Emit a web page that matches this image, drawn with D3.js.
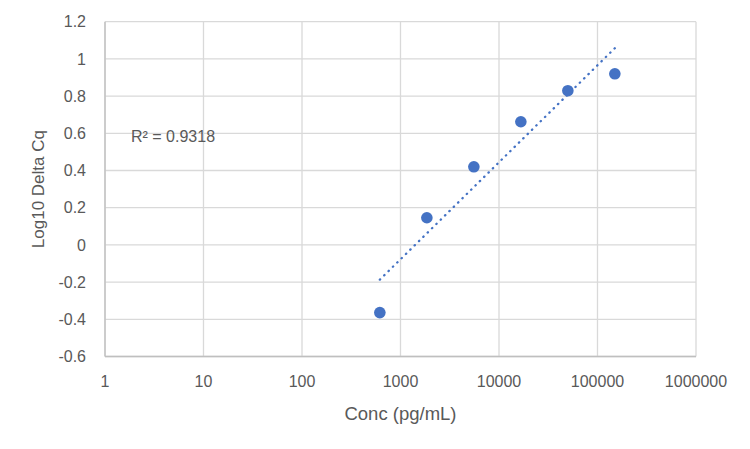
<!DOCTYPE html>
<html>
<head>
<meta charset="utf-8">
<script src="https://cdn.jsdelivr.net/npm/d3@7"></script>
<style>
  body { margin: 0; background: #fff; }
  text { font-family: "Liberation Sans", Arial, sans-serif; fill: #595959; }
</style>
</head>
<body>
<div id="chart"></div>
<script>
// data
var conc = [617, 1852, 5556, 16667, 50000, 150000];
var logDeltaCq = [-0.364, 0.146, 0.420, 0.662, 0.829, 0.920];
var xTicks = [1, 10, 100, 1000, 10000, 100000, 1000000];
var yTicks = [-0.6, -0.4, -0.2, 0, 0.2, 0.4, 0.6, 0.8, 1, 1.2];
var r2Label = "R² = 0.9318";

var W = 750, H = 449;
var plot = { left: 105, right: 696, top: 21.7, bottom: 356.5 };

var svg = d3.select("#chart").append("svg")
  .attr("width", W)
  .attr("height", H);

var x = d3.scaleLog()
  .domain([1, 1000000])
  .range([plot.left, plot.right]);

var y = d3.scaleLinear()
  .domain([-0.6, 1.2])
  .range([plot.bottom, plot.top]);

// gridlines
svg.append("g").selectAll("line.h").data(yTicks).enter()
  .append("line")
  .attr("x1", plot.left).attr("x2", plot.right)
  .attr("y1", function(d) { return y(d); })
  .attr("y2", function(d) { return y(d); })
  .attr("stroke", "#d9d9d9")
  .attr("stroke-width", 1.3);

svg.append("g").selectAll("line.v").data(xTicks).enter()
  .append("line")
  .attr("y1", plot.top).attr("y2", plot.bottom)
  .attr("x1", function(d) { return x(d); })
  .attr("x2", function(d) { return x(d); })
  .attr("stroke", "#d9d9d9")
  .attr("stroke-width", 1.3);

// axis lines
svg.append("line")
  .attr("x1", plot.left).attr("x2", plot.left)
  .attr("y1", plot.top).attr("y2", plot.bottom)
  .attr("stroke", "#bfbfbf").attr("stroke-width", 1.3);
svg.append("line")
  .attr("x1", plot.left).attr("x2", plot.right)
  .attr("y1", plot.bottom).attr("y2", plot.bottom)
  .attr("stroke", "#bfbfbf").attr("stroke-width", 1.3);

// tick labels
svg.append("g").selectAll("text").data(yTicks).enter()
  .append("text")
  .attr("x", 86)
  .attr("y", function(d) { return y(d); })
  .attr("dy", "0.36em")
  .attr("text-anchor", "end")
  .style("font-size", "16px")
  .text(function(d) { return String(+d.toFixed(1)); });

svg.append("g").selectAll("text").data(xTicks).enter()
  .append("text")
  .attr("x", function(d) { return x(d); })
  .attr("y", 387)
  .attr("text-anchor", "middle")
  .style("font-size", "16px")
  .text(function(d) { return String(d); });

// axis titles
svg.append("text")
  .attr("x", (plot.left + plot.right) / 2)
  .attr("y", 420)
  .attr("text-anchor", "middle")
  .style("font-size", "18.5px")
  .text("Conc (pg/mL)");

svg.append("text")
  .attr("transform", "translate(44," + ((plot.top + plot.bottom) / 2) + ") rotate(-90)")
  .attr("text-anchor", "middle")
  .style("font-size", "17px")
  .text("Log10 Delta Cq");

// logarithmic trendline, least squares on log10(conc)
var lx = conc.map(function(d) { return Math.log10(d); });
var mx = d3.mean(lx), my = d3.mean(logDeltaCq);
var sxy = d3.sum(lx, function(d, i) { return (d - mx) * (logDeltaCq[i] - my); });
var sxx = d3.sum(lx, function(d) { return (d - mx) * (d - mx); });
var slope = sxy / sxx, intercept = my - slope * mx;
var ends = d3.extent(conc);

svg.append("line")
  .attr("x1", x(ends[0]))
  .attr("y1", y(intercept + slope * Math.log10(ends[0])))
  .attr("x2", x(ends[1]))
  .attr("y2", y(intercept + slope * Math.log10(ends[1])))
  .attr("stroke", "#4472c4")
  .attr("stroke-width", 2.3)
  .attr("stroke-linecap", "round")
  .attr("stroke-dasharray", "0.4 5.7");

// points
svg.append("g").selectAll("circle").data(conc).enter()
  .append("circle")
  .attr("cx", function(d) { return x(d); })
  .attr("cy", function(d, i) { return y(logDeltaCq[i]); })
  .attr("r", 5.8)
  .attr("fill", "#4472c4");

svg.append("text")
  .attr("x", 131)
  .attr("y", 141.5)
  .style("font-size", "16px")
  .text(r2Label);
</script>
</body>
</html>
